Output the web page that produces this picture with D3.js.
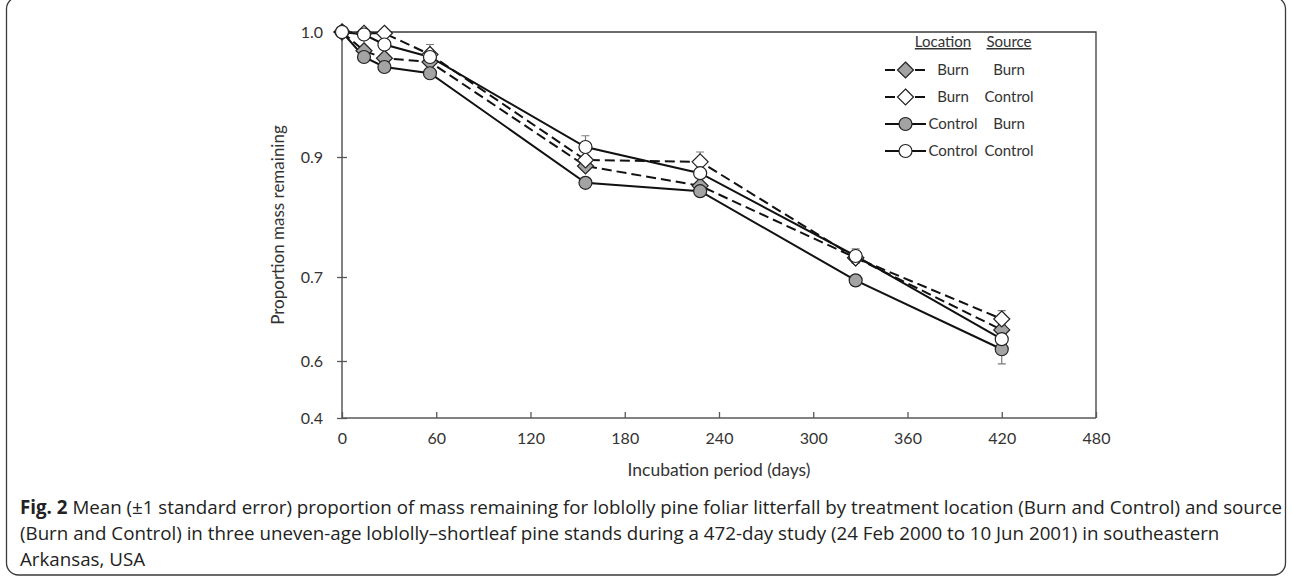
<!DOCTYPE html>
<html>
<head>
<meta charset="utf-8">
<script src="https://cdn.jsdelivr.net/npm/d3@7"></script>
<style>
    body { margin: 0; background: #fff; }
    svg text { font-family: Lato, "Open Sans", sans-serif; fill: #333; }
    .caption text { font-family: "Open Sans", sans-serif; fill: #222; }
</style>
</head>
<body>
<div id="chart"></div>
<script>

// sampling days
const days = [0, 14, 27, 56, 155, 228, 327, 420];

// mean proportion remaining, location / source
const burnBurn       = [1.0, 0.985, 0.979, 0.976, 0.885, 0.852, 0.732, 0.637];
const burnControl    = [1.0, 0.999, 0.999, 0.982, 0.895, 0.892, 0.732, 0.650];
const controlBurn    = [1.0, 0.980, 0.972, 0.967, 0.857, 0.843, 0.696, 0.614];
const controlControl = [1.0, 0.998, 0.990, 0.980, 0.908, 0.873, 0.735, 0.626];

// standard errors
const seBurnBurn       = [0, 0.003, 0.003, 0.003, 0.005, 0.006, 0.006, 0.006];
const seBurnControl    = [0, 0.002, 0.002, 0.004, 0.006, 0.012, 0.008, 0.010];
const seControlBurn    = [0, 0.003, 0.003, 0.004, 0.004, 0.007, 0.006, 0.024];
const seControlControl = [0, 0.002, 0.003, 0.010, 0.009, 0.007, 0.012, 0.008];

const yTicks = [1.0, 0.9, 0.7, 0.6, 0.4];
const xTicks = [0, 60, 120, 180, 240, 300, 360, 420, 480];

const legendLocation = ["Burn", "Burn", "Control", "Control"];
const legendSource = ["Burn", "Control", "Burn", "Control"];

const captionLines = [
    ["Fig. 2", " Mean (\u00b11 standard error) proportion of mass remaining for loblolly pine foliar litterfall by treatment location (Burn and Control) and source"],
    ["", "(Burn and Control) in three uneven-age loblolly\u2013shortleaf pine stands during a 472-day study (24 Feb 2000 to 10 Jun 2001) in southeastern"],
    ["", "Arkansas, USA"]
];


class LitterVis {

    constructor(parentElement) {
        this.parentElement = parentElement;
        this.initVis();
    }

    initVis() {
        let vis = this;

        vis.W = 1292;
        vis.H = 582;
        vis.margin = {top: 32, left: 342};
        vis.width = 754;
        vis.height = 386;

        vis.svg = d3.select("#" + vis.parentElement).append("svg")
            .attr("width", vis.W)
            .attr("height", vis.H);

        // rounded frame round figure + caption
        vis.svg.append("rect")
            .attr("x", 6.5).attr("y", -3)
            .attr("width", 1279).attr("height", 578)
            .attr("rx", 12)
            .attr("fill", "none")
            .attr("stroke", "#3a3a3a")
            .attr("stroke-width", 1.3);

        vis.g = vis.svg.append("g")
            .attr("transform", `translate(${vis.margin.left}, ${vis.margin.top})`);

        vis.x = d3.scaleLinear().domain([0, 480]).range([0, vis.width]);
        // tick labels in the figure are not evenly spaced, so piecewise
        vis.y = d3.scaleLinear()
            .domain([1.0, 0.9, 0.7, 0.6, 0.4])
            .range([0, 125, 245, 329, vis.height]);

        vis.series = [
            {name: "bb", values: burnBurn, se: seBurnBurn, shape: "diamond", fill: "#a3a3a3", dash: "10,5"},
            {name: "bc", values: burnControl, se: seBurnControl, shape: "diamond", fill: "#fff", dash: "10,5"},
            {name: "cb", values: controlBurn, se: seControlBurn, shape: "circle", fill: "#a3a3a3", dash: null},
            {name: "cc", values: controlControl, se: seControlControl, shape: "circle", fill: "#fff", dash: null}
        ];

        vis.drawAxes();
        vis.drawSeries();
        vis.drawLegend();
        vis.drawCaption();
    }

    drawAxes() {
        let vis = this;

        // plot border (top, right)
        vis.g.append("path")
            .attr("d", `M0,0H${vis.width}V${vis.height}`)
            .attr("fill", "none")
            .attr("stroke", "#3a3a3a")
            .attr("stroke-width", 1.3);

        let yAxis = d3.axisLeft(vis.y).tickValues(yTicks)
            .tickFormat(d3.format(".1f")).tickSize(5).tickPadding(14);
        let yg = vis.g.append("g").attr("class", "y-axis").call(yAxis);
        yg.selectAll(".tick line").attr("x2", 5).attr("x1", -5);

        let xAxis = d3.axisBottom(vis.x).tickValues(xTicks)
            .tickSize(-6).tickPadding(15);
        let xg = vis.g.append("g").attr("class", "x-axis")
            .attr("transform", `translate(0, ${vis.height})`)
            .call(xAxis);

        vis.g.selectAll(".domain").attr("stroke", "#595959").attr("stroke-width", 1.5);
        vis.g.selectAll(".tick line").attr("stroke", "#595959").attr("stroke-width", 1.3);
        vis.g.selectAll(".tick text")
            .style("font-size", "16px")
            .style("font-family", "Lato, sans-serif")
            .attr("fill", "#333");
        yg.selectAll(".domain").attr("d", `M0,0V${vis.height}`);
        xg.selectAll(".domain").attr("d", `M0,0H${vis.width}`);

        vis.g.append("text")
            .attr("transform", `translate(-58, ${vis.height / 2}) rotate(-90)`)
            .attr("text-anchor", "middle")
            .style("font-size", "17px")
            .text("Proportion mass remaining");

        vis.g.append("text")
            .attr("x", vis.width / 2)
            .attr("y", vis.height + 58)
            .attr("text-anchor", "middle")
            .style("font-size", "17.5px")
            .text("Incubation period (days)");
    }

    marker(sel, s, size) {
        if (s.shape === "circle") {
            sel.append("circle").attr("r", size);
        } else {
            let r = size + 1.5;
            sel.append("path").attr("d", `M0,${-r}L${r},0L0,${r}L${-r},0Z`);
        }
        sel.selectAll("circle, path")
            .attr("fill", s.fill)
            .attr("stroke", "#222")
            .attr("stroke-width", 1.2);
    }

    drawSeries() {
        let vis = this;

        let line = d3.line()
            .x((d, i) => vis.x(days[i]))
            .y(d => vis.y(d));

        // error bars
        vis.series.forEach(s => {
            let eb = vis.g.append("g").attr("class", "err-" + s.name);
            s.values.forEach((v, i) => {
                if (s.se[i] === 0) return;
                let cx = vis.x(days[i]);
                let y1 = vis.y(v + s.se[i]), y2 = vis.y(v - s.se[i]);
                eb.append("path")
                    .attr("d", `M${cx},${y1}V${y2}M${cx - 4},${y1}H${cx + 4}M${cx - 4},${y2}H${cx + 4}`)
                    .attr("stroke", "#7a7a7a")
                    .attr("stroke-width", 1.2)
                    .attr("fill", "none");
            });
        });

        vis.series.forEach(s => {
            vis.g.append("path")
                .datum(s.values)
                .attr("class", "line-" + s.name)
                .attr("d", line)
                .attr("fill", "none")
                .attr("stroke", "#111")
                .attr("stroke-width", 2)
                .attr("stroke-dasharray", s.dash);
        });

        vis.series.forEach(s => {
            s.values.forEach((v, i) => {
                let m = vis.g.append("g")
                    .attr("transform", `translate(${vis.x(days[i])}, ${vis.y(v)})`);
                vis.marker(m, s, 6.5);
            });
        });
    }

    drawLegend() {
        let vis = this;
        let lg = vis.svg.append("g").attr("class", "legend");

        let col1 = 953, col2 = 1009;

        lg.append("text").attr("x", 943).attr("y", 47)
            .attr("text-anchor", "middle").style("font-size", "15px")
            .attr("text-decoration", "underline").text("Location");
        lg.append("text").attr("x", col2).attr("y", 47)
            .attr("text-anchor", "middle").style("font-size", "15px")
            .attr("text-decoration", "underline").text("Source");

        vis.series.forEach((s, i) => {
            let cy = 70 + i * 27;
            lg.append("line")
                .attr("x1", 885).attr("x2", 926)
                .attr("y1", cy).attr("y2", cy)
                .attr("stroke", "#111").attr("stroke-width", 2)
                .attr("stroke-dasharray", s.dash);
            let m = lg.append("g").attr("transform", `translate(905.5, ${cy})`);
            vis.marker(m, s, 6.5);

            lg.append("text").attr("x", col1).attr("y", cy + 5)
                .attr("text-anchor", "middle").style("font-size", "15px")
                .text(legendLocation[i]);
            lg.append("text").attr("x", col2).attr("y", cy + 5)
                .attr("text-anchor", "middle").style("font-size", "15px")
                .text(legendSource[i]);
        });
    }

    drawCaption() {
        let vis = this;
        let cg = vis.svg.append("g").attr("class", "caption");
        let fs = 16.5;

        captionLines.forEach((ln, i) => {
            let t = cg.append("text")
                .attr("x", 20)
                .attr("y", 514 + i * 26)
                .style("font-size", fs + "px");
            if (ln[0]) t.append("tspan").style("font-weight", "bold").text(ln[0]);
            t.append("tspan").text(ln[1]);
        });

        // squeeze first line to the width seen in the figure
        let first = cg.select("text").node();
        let len = first.getComputedTextLength();
        let scale = 1263 / len;
        cg.selectAll("text").style("font-size", (fs * scale) + "px");
    }
}

new LitterVis("chart");

</script>
</body>
</html>
